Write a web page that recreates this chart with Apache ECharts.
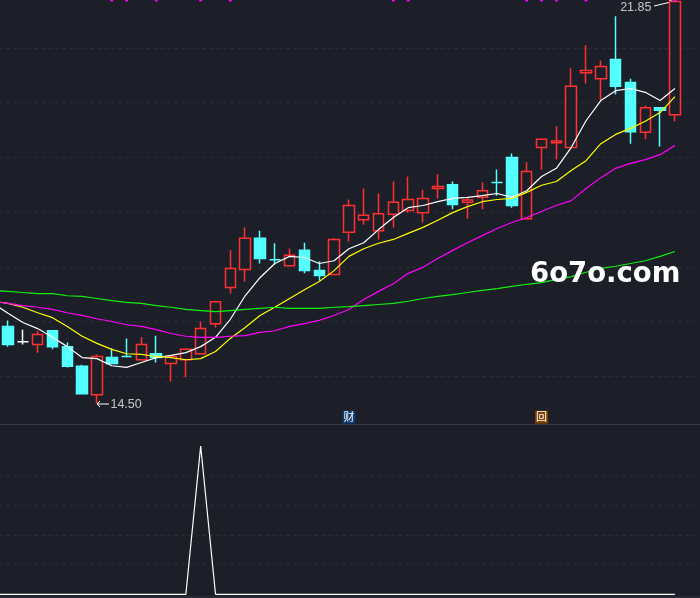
<!DOCTYPE html>
<html><head><meta charset="utf-8">
<style>html,body{margin:0;padding:0;background:#1c1f27}#c{width:700px;height:598px}</style>
<script src="https://cdn.jsdelivr.net/npm/echarts@6/dist/echarts.min.js"></script>
</head><body><div id="c"></div>
<script>
// index 0 is a session scrolled off the left edge; two empty slots pad the right edge
const open_ = ['-',15.91,15.63,15.58,15.83,15.54,15.18,14.66,15.34,15.36,15.30,15.41,15.23,15.30,15.41,15.96,16.62,16.95,17.52,17.13,17.02,17.30,16.93,16.86,17.63,17.86,17.66,17.96,18.03,17.99,18.43,18.50,18.18,18.27,18.54,19.00,17.88,19.18,19.27,19.18,20.55,20.44,20.79,20.37,19.46,19.91,19.78];
const close_ = ['-',15.58,15.63,15.76,15.54,15.18,14.68,15.36,15.23,15.36,15.58,15.34,15.36,15.49,15.87,16.36,16.97,17.52,17.15,17.13,17.21,16.93,16.84,17.50,18.12,17.94,17.97,18.18,18.23,18.25,18.47,18.14,18.22,18.39,18.54,18.12,18.74,19.33,19.30,20.30,20.59,20.66,20.30,19.47,19.91,19.86,21.85];
const low_ = ['-',15.54,15.58,15.43,15.49,15.16,14.68,14.50,15.23,15.34,15.29,15.25,14.90,14.98,15.40,15.89,16.51,16.73,17.06,17.04,17.02,16.88,16.75,16.86,17.46,17.77,17.50,17.72,17.99,17.81,18.25,18.05,17.88,18.05,18.30,18.08,17.88,18.78,18.96,19.18,20.35,20.04,20.15,19.25,19.33,19.20,19.66];
const high_ = ['-',16.02,15.85,15.83,15.83,15.62,15.21,15.40,15.51,15.69,15.71,15.74,15.38,15.51,16.00,16.38,17.30,17.72,17.66,17.43,17.33,17.44,17.10,17.52,18.23,18.43,18.34,18.56,18.65,18.41,18.69,18.56,18.27,18.54,18.78,19.07,18.91,19.33,19.57,20.63,21.05,20.77,21.58,20.44,19.95,19.91,21.85];
const dojiColors = {2:'#ffffff',9:'#54ffff',19:'#54ffff',34:'#54ffff'};
const maWhite = [16.33,16.15,15.98,15.87,15.71,15.54,15.34,15.32,15.19,15.16,15.25,15.34,15.38,15.43,15.54,15.71,16.04,16.47,16.80,17.06,17.19,17.17,17.06,17.11,17.33,17.44,17.68,17.90,18.08,18.12,18.19,18.25,18.27,18.30,18.34,18.27,18.39,18.65,18.80,19.18,19.67,20.04,20.22,20.26,20.19,20.04,20.26];
const maYellow = [16.37,16.33,16.26,16.16,16.07,15.91,15.73,15.60,15.49,15.41,15.40,15.36,15.34,15.30,15.32,15.45,15.69,15.89,16.11,16.26,16.42,16.58,16.73,16.93,17.19,17.33,17.43,17.50,17.61,17.72,17.85,17.99,18.10,18.19,18.23,18.25,18.36,18.49,18.56,18.76,18.94,19.25,19.42,19.53,19.66,19.82,20.11];
const maMagenta = [16.37,16.33,16.29,16.26,16.22,16.16,16.11,16.05,16.00,15.94,15.91,15.85,15.78,15.73,15.71,15.71,15.73,15.74,15.80,15.83,15.91,15.96,16.02,16.11,16.22,16.40,16.55,16.69,16.88,16.99,17.15,17.30,17.44,17.57,17.70,17.81,17.90,18.01,18.12,18.21,18.43,18.63,18.80,18.89,18.96,19.05,19.22];
const maGreen = [16.57,16.55,16.53,16.51,16.51,16.47,16.46,16.42,16.38,16.35,16.33,16.29,16.26,16.22,16.20,16.18,16.20,16.22,16.24,16.26,16.24,16.24,16.24,16.26,16.27,16.29,16.31,16.33,16.37,16.42,16.46,16.49,16.53,16.57,16.60,16.64,16.68,16.71,16.77,16.82,16.90,16.97,17.01,17.06,17.11,17.19,17.28];
const signalTop = 21.87;
const signalIdx = [8,9,11,14,16,27,28,36,37,38,40,46];
const badges = [{i:24,p:14.25,t:'财',c:'#0b3a6e'},{i:37,p:14.25,t:'回',c:'#7c4000'}];
const notes = [{i:7,p:14.50,t:'14.50'},{i:46,p:21.85,t:'21.85'}];
const indicator = [0,0,0,0,0,0,0,0,0,0,0,0,0,0,100,0,0,0,0,0,0,0,0,0,0,0,0,0,0,0,0,0,0,0,0,0,0,0,0,0,0,0,0,0,0,0,0];
const priceTicks = {min:14,max:22,interval:1};
const indTicks = {min:0,max:100,interval:20};

const BG='#1c1f27',RED='#ff3030',CYAN='#54ffff';
const cats = Array.from({length:49},(_,i)=>'d'+i);
const candles = open_.map((o,i)=>{
  const item={value:[o,close_[i],low_[i],high_[i]]};
  if(dojiColors[i]) item.itemStyle={borderColorDoji:dojiColors[i]};
  return item;
});
const line=(name,data,color,xi)=>({name,type:'line',data,xAxisIndex:xi,yAxisIndex:xi,symbol:'none',silent:true,
  lineStyle:{color,width:1.2},itemStyle:{color},z:3});
const grid0={left:-14.2,width:726.18,top:-6.67,height:437.52,outerBoundsMode:'none'};
const grid1={left:-14.2,width:726.18,top:446,height:148.3,outerBoundsMode:'none'};
const dash={show:true,showMinLine:false,showMaxLine:false,lineStyle:{color:'#2c2f37',width:1,type:[3,4]}};
const opt={
  animation:false,backgroundColor:BG,
  grid:[grid0,grid1],
  xAxis:[0,1].map(g=>({type:'category',gridIndex:g,data:cats,boundaryGap:true,show:false})),
  yAxis:[
    Object.assign({type:'value',gridIndex:0,axisLine:{show:false},axisTick:{show:false},axisLabel:{show:false},splitLine:dash},priceTicks),
    Object.assign({type:'value',gridIndex:1,axisLine:{show:false},axisTick:{show:false},axisLabel:{show:false},splitLine:dash},indTicks)
  ],
  series:[
    {type:'candlestick',data:candles,xAxisIndex:0,yAxisIndex:0,barWidth:11,silent:true,z:2,
      itemStyle:{color:BG,color0:CYAN,borderColor:RED,borderColor0:CYAN,borderColorDoji:RED,borderWidth:1.5}},
    line('MA5',maWhite,'#ffffff',0),
    line('MA10',maYellow,'#ffff00',0),
    line('MA20',maMagenta,'#ff00ff',0),
    line('MA60',maGreen,'#10f010',0),
    {type:'scatter',xAxisIndex:0,yAxisIndex:0,silent:true,symbol:'rect',symbolSize:[3,2],
      itemStyle:{color:'#ff00ff',opacity:1},z:4,data:signalIdx.map(i=>[i,signalTop])},
    {type:'scatter',xAxisIndex:0,yAxisIndex:0,silent:true,symbol:'rect',symbolSize:13,z:4,
      data:badges.map(b=>({value:[b.i,b.p],itemStyle:{color:b.c,opacity:1},label:{show:true,formatter:b.t,position:'inside',
        color:'#ffffff',fontSize:11,fontFamily:'"Noto Sans CJK SC"'}}))},
    {type:'scatter',xAxisIndex:0,yAxisIndex:0,silent:true,symbolSize:1,itemStyle:{color:'transparent'},z:5,
      data:[
        {value:[notes[0].i,notes[0].p],label:{show:true,formatter:notes[0].t,position:'right',distance:13,offset:[0,1],color:'#e8eef5',fontSize:12.5,fontFamily:'"Liberation Sans"'}},
        {value:[notes[1].i,notes[1].p],label:{show:true,formatter:notes[1].t,position:'left',distance:23,offset:[0,6.5],color:'#e8eef5',fontSize:12.5,fontFamily:'"Liberation Sans"'}}
      ]},
    line('IND',indicator,'#ffffff',1)
  ],
  graphic:[
    {type:'rect',shape:{x:0,y:424,width:700,height:1},style:{fill:'#333946'},silent:true},
    {type:'rect',shape:{x:0,y:596.5,width:700,height:1},style:{fill:'#333946'},silent:true},
    {type:'polyline',shape:{points:[[109,404],[97,404]]},style:{stroke:'#fff',lineWidth:1,fill:null},silent:true},
    {type:'polyline',shape:{points:[[100,401],[97,404],[100,407]]},style:{stroke:'#fff',lineWidth:1,fill:null},silent:true},
    {type:'polyline',shape:{points:[[654,6],[673,1.5]]},style:{stroke:'#fff',lineWidth:1,fill:null},silent:true},
    {type:'polyline',shape:{points:[[669,0],[673,1.5],[670,5]]},style:{stroke:'#fff',lineWidth:1,fill:null},silent:true},
    {type:'text',x:530,y:261,z:10,silent:true,style:{text:'6o7o.com',fill:'#ffffff',font:'bold 27.5px "DejaVu Sans"'}}
  ]
};
echarts.init(document.getElementById('c'),null,{renderer:'canvas'}).setOption(opt);
</script></body></html>
